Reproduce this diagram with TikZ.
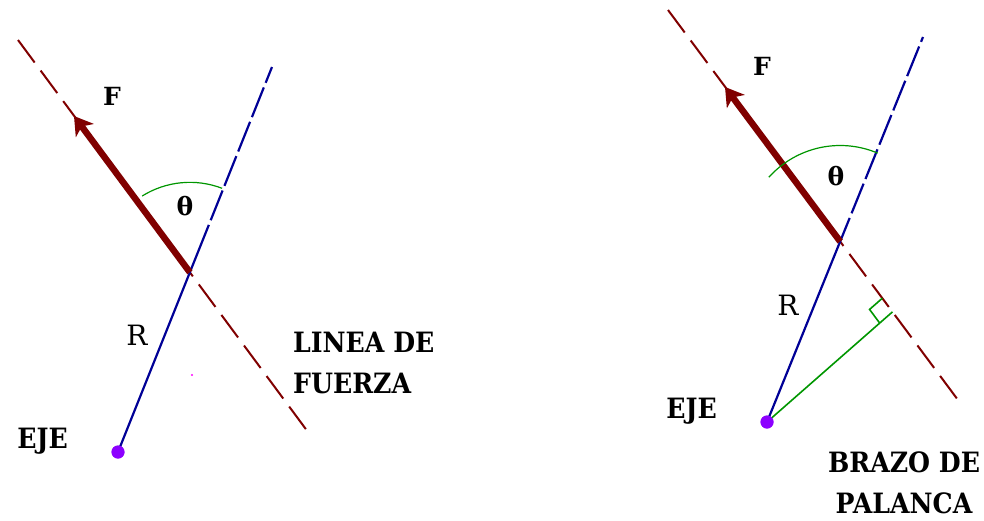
\documentclass[tikz,border=0pt]{standalone}
\usepackage{fontspec}
\setmainfont{DejaVu Serif}
\usetikzlibrary{arrows.meta,calc}
\definecolor{maroonline}{RGB}{128,0,0}
\definecolor{navyline}{RGB}{0,0,150}
\definecolor{greenline}{RGB}{0,150,0}
\definecolor{dotpurple}{RGB}{140,0,255}
\definecolor{straymag}{RGB}{255,0,255}
\tikzset{
  forceline/.style={draw=maroonline, line width=2pt, dash pattern=on 28pt off 10pt},
  forcevec/.style={draw=maroonline, line width=6.5pt, -{Stealth[length=18pt,width=22pt,inset=5pt]}},
  radiussolid/.style={draw=navyline, line width=2.2pt},
  radiusdash/.style={draw=navyline, line width=2.2pt, dash pattern=on 32pt off 5pt, dash phase=32pt},
  anglearc/.style={draw=greenline, line width=1.2pt},
  armline/.style={draw=greenline, line width=1.6pt},
  pivot/.style={circle, fill=dotpurple, inner sep=0pt, minimum size=13pt},
  bigtitle/.style={font=\fontsize{28}{41}\selectfont\bfseries, inner sep=0pt},
  symlabel/.style={font=\fontsize{25}{30}\selectfont\bfseries, inner sep=0pt},
  rlabel/.style={font=\fontsize{28}{30}\selectfont, inner sep=0pt},
}
\newcommand{\narrowtxt}[1]{\scalebox{0.9}[1]{#1}}
\begin{document}
\begin{tikzpicture}[x=1pt,y=1pt]
\useasboundingbox (0,0) rectangle (984,-520);
% ---------- left diagram ----------
\coordinate (A1) at (18,-40);
\coordinate (B1) at (308,-432);
\coordinate (T1) at (272,-67);
\node[pivot] (O1) at (118,-452) {};
\coordinate (X1) at (intersection of A1--B1 and 118,-452--T1);
\coordinate (S1) at ($(O1.center)!0.59!(T1)$);
\coordinate (F1) at (74,-116);
\draw[forceline] (A1) -- (B1);
\draw[radiussolid] (O1.center) -- (S1);
\draw[radiusdash] (S1) -- (T1);
\draw[forcevec] (X1) -- (F1);
\draw[anglearc] ($(X1)+(122:90)$) arc[start angle=122, end angle=69, radius=90];
\node[pivot] at (O1) {};
\fill[straymag] (192,-375) circle[radius=1.2];
\node[symlabel] (f1) at (112,-96) {F};
\node[symlabel] (th1) at (185,-206) {θ};
\node[rlabel] (r1) at (137,-335) {R};
\node[bigtitle, anchor=east] (eje1) at (68,-441) {\narrowtxt{EJE}};
\node[bigtitle, align=left, anchor=north west] (linea) at (293,-332) {\narrowtxt{LINEA DE}\\\narrowtxt{FUERZA}};
% ---------- right diagram ----------
\coordinate (A2) at (668,-10);
\coordinate (B2) at (958,-400);
\coordinate (T2) at (923,-37);
\node[pivot] (O2) at (767,-422) {};
\coordinate (X2) at (intersection of A2--B2 and 767,-422--T2);
\coordinate (S2) at ($(O2.center)!0.53!(T2)$);
\coordinate (F2) at (725,-87);
\coordinate (P) at ($(A2)!0.774!(B2)$);
\draw[forceline] (A2) -- (B2);
\draw[radiussolid] (O2.center) -- (S2);
\draw[radiusdash] (S2) -- (T2);
\draw[forcevec] (X2) -- (F2);
\draw[anglearc] ($(X2)+(138:96)$) arc[start angle=138, end angle=67, radius=96];
\draw[armline] (O2.center) -- (P);
\coordinate (m1) at ($(P)!17pt!(A2)$);
\coordinate (m2) at ($(P)!17pt!(O2.center)$);
\coordinate (mc) at ($(m1)+(m2)-(P)$);
\draw[armline] (m1) -- (mc) -- (m2);
\node[pivot] at (O2) {};
\node[symlabel] (f2) at (762,-66) {F};
\node[symlabel] (th2) at (836,-176) {θ};
\node[rlabel] (r2) at (788,-305) {R};
\node[bigtitle, anchor=east] (eje2) at (717,-411) {\narrowtxt{EJE}};
\node[bigtitle, align=center, anchor=north] (brazo) at (904,-452) {\narrowtxt{BRAZO DE}\\\narrowtxt{PALANCA}};
\end{tikzpicture}
\end{document}
